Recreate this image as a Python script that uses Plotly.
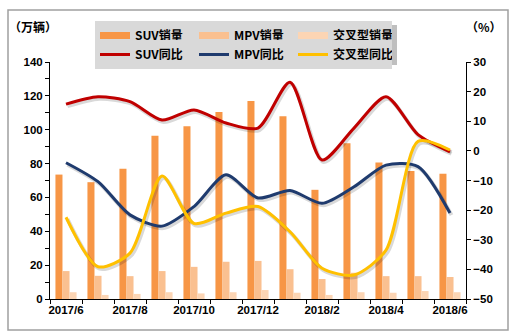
import plotly.graph_objects as go

months = ["2017/6", "2017/7", "2017/8", "2017/9", "2017/10", "2017/11", "2017/12",
          "2018/1", "2018/2", "2018/3", "2018/4", "2018/5", "2018/6"]
suv_sales = [73.5, 69, 77, 96.5, 102, 110.5, 117, 108, 64.5, 92, 80.6, 75.6, 74]
mpv_sales = [16.5, 13.7, 13.5, 16.5, 19, 22, 22.5, 17.6, 11.8, 15.5, 13.5, 13.5, 13]
cross_sales = [4, 2.4, 3, 4, 3.3, 4, 5.3, 3.7, 2.4, 4, 3.7, 4.7, 4]
suv_yoy = [15.8, 18.3, 16.6, 10.4, 13.8, 9.4, 7.7, 23.2, -3.1, 7.7, 18.3, 5.5, -0.3]
mpv_yoy = [-4, -10.4, -21.6, -25.4, -18.8, -8.1, -15.9, -13.4, -17.7, -12.1, -4.8, -5.3, -21]
cross_yoy = [-22.4, -39.1, -34.5, -8.5, -24.5, -21, -18.8, -27.3, -39.6, -41.9, -33.5, 3.2, 0.3]

bar_colors = ["#f79646", "#fac090", "#fcd5b4"]
line_colors = ["#c00000", "#1f3b6e", "#ffc000"]
bar_names = ["SUV销量", "MPV销量", "交叉型销量"]
line_names = ["SUV同比", "MPV同比", "交叉型同比"]

x = list(range(len(months)))
fig = go.Figure()

for vals, c in zip([suv_sales, mpv_sales, cross_sales], bar_colors):
    fig.add_trace(go.Bar(x=x, y=vals, marker=dict(color=c, line=dict(width=0)),
                         showlegend=False, xaxis="x", yaxis="y"))

SM = 0.75
# soft shadows (offset axes)
for vals in [suv_yoy, mpv_yoy, cross_yoy]:
    fig.add_trace(go.Scatter(x=x, y=vals, mode="lines",
                             line=dict(color="rgba(0,0,0,0.15)", width=4, shape="spline", smoothing=SM),
                             showlegend=False, hoverinfo="skip", xaxis="x2", yaxis="y2"))
for vals, c in zip([suv_yoy, mpv_yoy, cross_yoy], line_colors):
    fig.add_trace(go.Scatter(x=x, y=vals, mode="lines", line=dict(color=c, width=3, shape="spline", smoothing=SM),
                             showlegend=False, xaxis="x3", yaxis="y3"))

# legend entries
for n, c in zip(bar_names, bar_colors):
    fig.add_trace(go.Scatter(x=[None], y=[None], mode="lines", line=dict(color=c, width=7),
                             name=n, legend="legend", xaxis="x", yaxis="y"))
for n, c in zip(line_names, line_colors):
    fig.add_trace(go.Scatter(x=[None], y=[None], mode="lines", line=dict(color=c, width=3),
                             name=n, legend="legend2", xaxis="x", yaxis="y"))

W, H = 517, 336
ml, mr, mt, mb = 50, 51, 62, 37
pw, ph = W - ml - mr, H - mt - mb

def px_x(p):
    return (p - ml) / pw

def px_y(p):
    return (H - mb - p) / ph

tickfont = dict(family="Liberation Sans, Arial", size=11.5, color="black", weight="bold")
legfont = dict(family="Noto Sans CJK SC", size=12, color="black", weight="bold")

xr = [-0.5, len(months) - 0.5]
dx = 1.5 * (xr[1] - xr[0]) / pw
dy = 2.0 * 80 / ph

fig.update_layout(
    width=W, height=H,
    margin=dict(l=ml, r=mr, t=mt, b=mb),
    paper_bgcolor="white", plot_bgcolor="white",
    barmode="group", bargap=0.34, bargroupgap=0,
    xaxis=dict(range=xr, tickvals=x[::2], ticktext=months[::2], ticks="",
               minor=dict(tick0=-0.5, dtick=1, ticks="outside", ticklen=4, tickcolor="black", tickwidth=1),
               showline=True, linecolor="black", linewidth=1, showgrid=False, zeroline=False,
               tickfont=tickfont, fixedrange=True),
    xaxis2=dict(range=[xr[0] - dx, xr[1] - dx], overlaying="x", visible=False),
    xaxis3=dict(range=xr, overlaying="x", visible=False),
    yaxis=dict(range=[0, 140], dtick=20, ticks="outside", ticklen=4, tickcolor="black",
               minor=dict(dtick=10, ticks="outside", ticklen=4, tickcolor="black"),
               showline=True, linecolor="black", linewidth=1, showgrid=False, zeroline=False,
               tickfont=tickfont),
    yaxis2=dict(range=[-50 + dy, 30 + dy], overlaying="y", visible=False),
    yaxis3=dict(range=[-50, 30], dtick=10, overlaying="y", side="right", ticks="outside", ticklen=4,
                tickcolor="black", showline=True, linecolor="black", linewidth=1, showgrid=False,
                zeroline=False, tickfont=tickfont),
    legend=dict(orientation="h", x=px_x(95), y=px_y(21), xanchor="left", yanchor="top",
                bgcolor="#d9d9d9", entrywidth=54, entrywidthmode="pixels", font=legfont,
                itemwidth=30, borderwidth=0, tracegroupgap=0),
    legend2=dict(orientation="h", x=px_x(95), y=px_y(40), xanchor="left", yanchor="top",
                 bgcolor="#d9d9d9", entrywidth=54, entrywidthmode="pixels", font=legfont,
                 itemwidth=30, borderwidth=0, tracegroupgap=0),
    shapes=[
        dict(type="rect", xref="paper", yref="paper", x0=px_x(8), x1=px_x(508),
             y0=px_y(330), y1=px_y(10), line=dict(color="#a0a0a0", width=1.5), layer="below"),
        dict(type="rect", xref="paper", yref="paper", x0=px_x(98), x1=px_x(397),
             y0=px_y(65), y1=px_y(25), line=dict(width=0), fillcolor="rgba(0,0,0,0.25)", layer="above"),
    ],
    annotations=[
        dict(text="（万辆）", xref="paper", yref="paper", x=px_x(33), y=px_y(26), showarrow=False,
             font=legfont, xanchor="center", yanchor="middle"),
        dict(text="（%）", xref="paper", yref="paper", x=px_x(484), y=px_y(26), showarrow=False,
             font=legfont, xanchor="center", yanchor="middle"),
    ],
)

fig.write_html("out.html")
